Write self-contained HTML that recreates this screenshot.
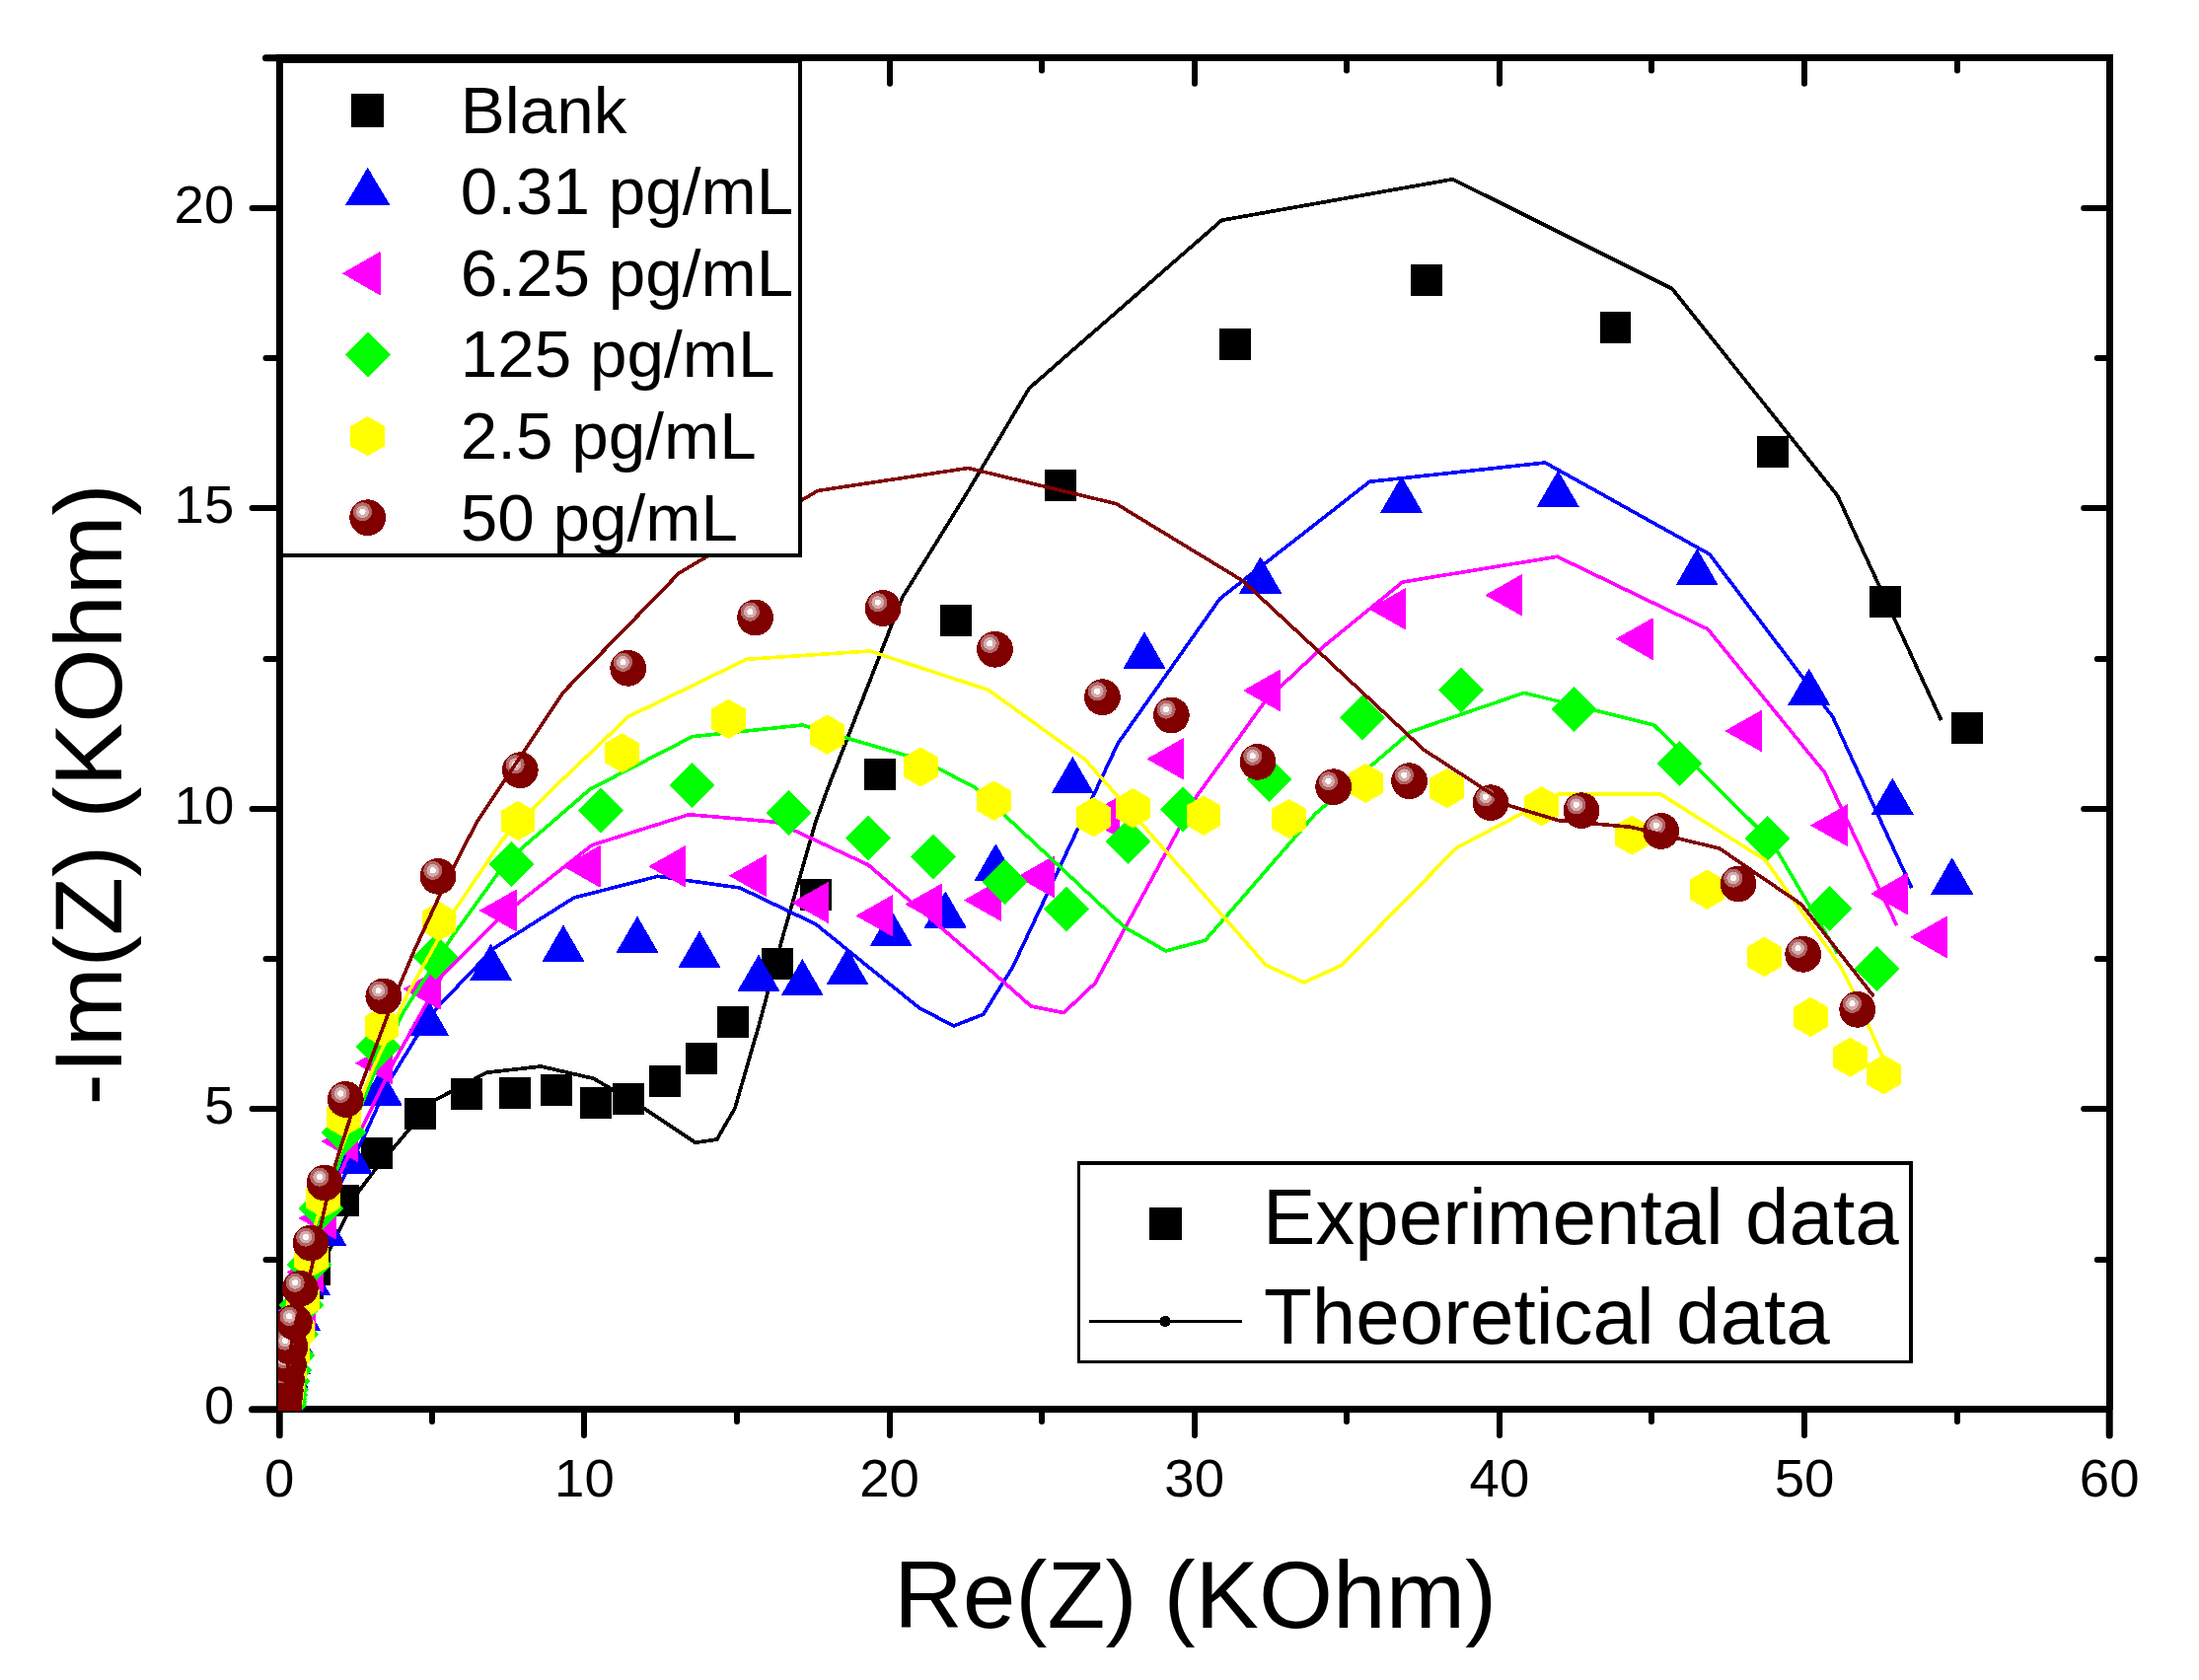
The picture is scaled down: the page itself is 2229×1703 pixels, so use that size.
<!DOCTYPE html>
<html lang="en"><head><meta charset="utf-8"><title>Nyquist plot</title>
<style>html,body{margin:0;padding:0;background:#fff}svg{display:block}text{font-family:"Liberation Sans",Arial,Helvetica,sans-serif;fill:#000}</style></head><body>
<svg width="2229" height="1703" viewBox="0 0 2229 1703" shape-rendering="crispEdges">
<rect width="2229" height="1703" fill="#fff"/>
<defs>
<clipPath id="pc"><rect x="282" y="58.8" width="1856.2" height="1371.2"/></clipPath>
<g id="sq"><rect x="-15.9" y="-16" width="31.8" height="32" fill="#000"/></g>
<g id="tu"><path d="M0,-24.1 L20.8,11.9 L-20.8,11.9 Z" fill="#00f" stroke="#00f" stroke-width="1" stroke-linejoin="round"/></g>
<g id="tl"><path d="M-24.4,0 L12.1,-20.7 L12.1,20.7 Z" fill="#f0f" stroke="#f0f" stroke-width="1" stroke-linejoin="round"/></g>
<g id="di"><path d="M0,-23 L23,0 L0,23 L-23,0 Z" fill="#0f0"/></g>
<g id="hx"><path d="M0,-20.1 L17.4,-10.1 L17.4,10 L0,20.1 L-17.4,10.1 L-17.4,-10.1 Z" fill="#ff0"/></g>
<g id="ba"><circle r="18.4" fill="#800000"/><circle cx="-5.2" cy="-5.9" r="9.6" fill="#b06666"/><circle cx="-5.2" cy="-5.9" r="6.4" fill="#d6abab"/><circle cx="-5.2" cy="-5.9" r="3.1" fill="#fcf9f9"/></g>
</defs>
<g stroke="#000" stroke-width="7.0" fill="none" stroke-linecap="butt">
<path d="M2138.2,55.3 V1428.8 M283.2,58.8 H2138.2 M283.2,1428.8 H2138.2"/>
<path d="M283.5,55.3 V1428.8" stroke-width="6.4"/>
</g>
<g stroke="#000" stroke-width="6" fill="none" stroke-linecap="round" shape-rendering="geometricPrecision">
<path d="M283,1428.8 V1455.1 M438,1428.8 V1441 M438,58.8 V71.5 M592,1428.8 V1455.1 M592,58.8 V84.8 M747,1428.8 V1441 M747,58.8 V71.5 M902,1428.8 V1455.1 M902,58.8 V84.8 M1056,1428.8 V1441 M1056,58.8 V71.5 M1211,1428.8 V1455.1 M1211,58.8 V84.8 M1365,1428.8 V1441 M1365,58.8 V71.5 M1520,1428.8 V1455.1 M1520,58.8 V84.8 M1674,1428.8 V1441 M1674,58.8 V71.5 M1829,1428.8 V1455.1 M1829,58.8 V84.8 M1984,1428.8 V1441 M1984,58.8 V71.5 M2138,1428.8 V1455.1 M283.2,1429 H255.6 M283.2,1277 H269.5 M2138.2,1277 H2125.8 M283.2,1124 H255.6 M2138.2,1124 H2112.2 M283.2,972 H269.5 M2138.2,972 H2125.8 M283.2,820 H255.6 M2138.2,820 H2112.2 M283.2,668 H269.5 M2138.2,668 H2125.8 M283.2,515 H255.6 M2138.2,515 H2112.2 M283.2,363 H269.5 M2138.2,363 H2125.8 M283.2,211 H255.6 M2138.2,211 H2112.2 M283.2,59 H269.5"/>
<path d="M2138.2,1428.8 V1455.1 M283.2,1428.8 H255.6 M283.2,58.8 H269.5" stroke-width="7.0"/>
<path d="M283.5,1428.8 V1455.1" stroke-width="6.4"/>
</g>
<g clip-path="url(#pc)">
<g>
<use href="#sq" x="287.7" y="1425.4"/><use href="#sq" x="287.8" y="1424.1"/><use href="#sq" x="288.1" y="1422.2"/><use href="#sq" x="288.5" y="1419.7"/><use href="#sq" x="289.1" y="1416.1"/><use href="#sq" x="289.9" y="1411.2"/><use href="#sq" x="291" y="1404.3"/><use href="#sq" x="292.7" y="1394.8"/><use href="#sq" x="295" y="1381.6"/><use href="#sq" x="298.4" y="1363.3"/><use href="#sq" x="303.2" y="1337.8"/><use href="#sq" x="311.9" y="1300.7"/><use href="#sq" x="318.7" y="1287"/><use href="#sq" x="347.9" y="1217"/><use href="#sq" x="381.7" y="1168.8"/><use href="#sq" x="425.7" y="1129"/><use href="#sq" x="473.3" y="1109"/><use href="#sq" x="522.3" y="1107.7"/><use href="#sq" x="564.3" y="1105"/><use href="#sq" x="604" y="1117.7"/><use href="#sq" x="636.7" y="1114"/><use href="#sq" x="674.3" y="1095.7"/><use href="#sq" x="711" y="1072.7"/><use href="#sq" x="743.3" y="1035.7"/><use href="#sq" x="787.7" y="977"/><use href="#sq" x="826.7" y="906.7"/><use href="#sq" x="891.8" y="785"/><use href="#sq" x="969" y="629"/><use href="#sq" x="1075" y="491.7"/><use href="#sq" x="1252.3" y="349"/><use href="#sq" x="1445.7" y="284"/><use href="#sq" x="1637.5" y="331.7"/><use href="#sq" x="1797" y="457.7"/><use href="#sq" x="1911" y="610"/><use href="#sq" x="1993.7" y="737.7"/>
<polyline fill="none" stroke="#000" stroke-width="3.7" stroke-linejoin="round" stroke-linecap="butt" points="287,1428.6 291,1410 300,1375 318,1310 333.9,1267.4 364.1,1207 380.5,1185.4 413.3,1146.7 440,1115.7 493.3,1087.3 548.3,1081 601.7,1093.3 650,1121.7 705,1158.3 726.7,1155 745,1123.3 770,1036.7 793.3,950 800,926.7 826.7,833.3 838.8,800 892.5,662.5 915,605 980,500 1043.3,393.5 1238.3,223.3 1472.7,181.7 1695,292.7 1862.7,502.7 1967.7,730"/>
</g>
<g>
<use href="#tu" x="287.3" y="1425.3"/><use href="#tu" x="287.4" y="1424"/><use href="#tu" x="287.6" y="1422.1"/><use href="#tu" x="287.8" y="1419.6"/><use href="#tu" x="288.1" y="1416"/><use href="#tu" x="288.7" y="1411"/><use href="#tu" x="289.6" y="1404"/><use href="#tu" x="291.1" y="1394.4"/><use href="#tu" x="293.5" y="1381"/><use href="#tu" x="297.4" y="1362.4"/><use href="#tu" x="303.7" y="1336.6"/><use href="#tu" x="313.7" y="1300.8"/><use href="#tu" x="330" y="1251"/><use href="#tu" x="355.8" y="1177.3"/><use href="#tu" x="386.3" y="1108.3"/><use href="#tu" x="433.5" y="1037.3"/><use href="#tu" x="497.5" y="981.8"/><use href="#tu" x="571" y="962.6"/><use href="#tu" x="646" y="953.6"/><use href="#tu" x="709" y="968.6"/><use href="#tu" x="769" y="992.6"/><use href="#tu" x="813.3" y="997"/><use href="#tu" x="859" y="986"/><use href="#tu" x="903.3" y="947"/><use href="#tu" x="958.3" y="928.3"/><use href="#tu" x="1009.3" y="880.3"/><use href="#tu" x="1087.3" y="792"/><use href="#tu" x="1160" y="665.5"/><use href="#tu" x="1277.7" y="589.3"/><use href="#tu" x="1420.7" y="507.6"/><use href="#tu" x="1579.3" y="501.8"/><use href="#tu" x="1720.2" y="581"/><use href="#tu" x="1833.7" y="702.6"/><use href="#tu" x="1918.3" y="813.6"/><use href="#tu" x="1978.7" y="894.3"/>
<polyline fill="none" stroke="#00f" stroke-width="3.6" stroke-linejoin="round" stroke-linecap="butt" points="287,1428.6 290,1405 296,1370 306,1320 320,1265 340.4,1209.5 368.6,1153 394,1097 435,1030 500,961.7 581.7,910 666.7,888.3 750,900 826.7,936.7 931.7,1021.7 966.7,1040 996.7,1028.3 1026.7,980 1133.3,753.3 1236.7,606.7 1388.3,488.3 1566.3,469 1732.7,561.7 1857.7,726.7 1937.7,900"/>
</g>
<g>
<use href="#tl" x="287.8" y="1425"/><use href="#tl" x="288" y="1423.6"/><use href="#tl" x="288.4" y="1421.5"/><use href="#tl" x="288.8" y="1418.7"/><use href="#tl" x="289.6" y="1414.8"/><use href="#tl" x="290.6" y="1409.4"/><use href="#tl" x="292" y="1401.8"/><use href="#tl" x="294.1" y="1391.3"/><use href="#tl" x="297" y="1376.7"/><use href="#tl" x="301.2" y="1356.5"/><use href="#tl" x="307.2" y="1328.3"/><use href="#tl" x="315.8" y="1289.3"/><use href="#tl" x="328" y="1235"/><use href="#tl" x="350.6" y="1157"/><use href="#tl" x="385.2" y="1077.7"/><use href="#tl" x="434" y="1002.5"/><use href="#tl" x="511" y="923"/><use href="#tl" x="596" y="878.3"/><use href="#tl" x="682.7" y="878.3"/><use href="#tl" x="764.3" y="887.7"/><use href="#tl" x="827.7" y="915"/><use href="#tl" x="892.7" y="928.3"/><use href="#tl" x="942.7" y="916.7"/><use href="#tl" x="1002.2" y="912.5"/><use href="#tl" x="1056.2" y="888.8"/><use href="#tl" x="1122.7" y="828.3"/><use href="#tl" x="1187.7" y="769.3"/><use href="#tl" x="1285.3" y="700"/><use href="#tl" x="1412.7" y="617.3"/><use href="#tl" x="1530.7" y="603.3"/><use href="#tl" x="1663" y="647.7"/><use href="#tl" x="1773.7" y="741"/><use href="#tl" x="1860.3" y="836.7"/><use href="#tl" x="1921.3" y="906"/><use href="#tl" x="1961.3" y="950"/>
<polyline fill="none" stroke="#f0f" stroke-width="3.6" stroke-linejoin="round" stroke-linecap="butt" points="287,1428.6 290,1403 296,1365 306,1312 320,1255 342,1195 368.6,1140 399.3,1076.4 447.9,989.4 506.7,930 600,856.7 698.3,825.7 786.7,833.3 880,876.7 1000,980 1045,1020 1078.3,1026.7 1110,996.7 1212.5,808 1283,710 1340,656.7 1421.7,590 1578.5,564.3 1731,637.7 1849.3,782.7 1922.7,938.3"/>
</g>
<g>
<use href="#di" x="287.7" y="1424.8"/><use href="#di" x="287.9" y="1423.3"/><use href="#di" x="288.3" y="1421.2"/><use href="#di" x="288.7" y="1418.2"/><use href="#di" x="289.4" y="1414.1"/><use href="#di" x="290.3" y="1408.4"/><use href="#di" x="291.6" y="1400.4"/><use href="#di" x="293.6" y="1389.4"/><use href="#di" x="296.3" y="1374"/><use href="#di" x="300.2" y="1352.7"/><use href="#di" x="305.7" y="1323.2"/><use href="#di" x="313.7" y="1282.1"/><use href="#di" x="325" y="1225"/><use href="#di" x="348" y="1148"/><use href="#di" x="383.9" y="1061"/><use href="#di" x="441.6" y="970"/><use href="#di" x="518.3" y="876"/><use href="#di" x="609.3" y="821.7"/><use href="#di" x="701" y="796"/><use href="#di" x="799" y="824"/><use href="#di" x="880" y="849.3"/><use href="#di" x="946" y="868.3"/><use href="#di" x="1018.3" y="894"/><use href="#di" x="1080.7" y="921.7"/><use href="#di" x="1143.3" y="853.3"/><use href="#di" x="1199.3" y="820.7"/><use href="#di" x="1286.7" y="790"/><use href="#di" x="1380.7" y="727.7"/><use href="#di" x="1481" y="699.3"/><use href="#di" x="1595" y="719"/><use href="#di" x="1702.7" y="774"/><use href="#di" x="1791.7" y="850"/><use href="#di" x="1854.3" y="921"/><use href="#di" x="1902.7" y="982.3"/>
<polyline fill="none" stroke="#0f0" stroke-width="3.6" stroke-linejoin="round" stroke-linecap="butt" points="287,1428.6 290,1402 296,1362 306,1308 320,1250 338,1195 358.3,1140.4 378.8,1089 409.5,1025 455.6,953.6 513.3,873.3 598.3,800 701.7,746.7 813.3,735 933.3,770 988,798 1140,940 1181.7,964 1221.7,953.3 1333.3,825 1430,741.7 1545,702.3 1676.5,735 1796,853.3 1862.7,966.7"/>
</g>
<g>
<use href="#hx" x="287.8" y="1424.6"/><use href="#hx" x="288" y="1423"/><use href="#hx" x="288.3" y="1420.8"/><use href="#hx" x="288.8" y="1417.7"/><use href="#hx" x="289.5" y="1413.3"/><use href="#hx" x="290.5" y="1407.3"/><use href="#hx" x="292" y="1399"/><use href="#hx" x="294" y="1387.4"/><use href="#hx" x="296.9" y="1371.2"/><use href="#hx" x="301.1" y="1348.9"/><use href="#hx" x="307" y="1317.8"/><use href="#hx" x="315.5" y="1274.6"/><use href="#hx" x="327.6" y="1214.6"/><use href="#hx" x="348.1" y="1132.7"/><use href="#hx" x="387" y="1040.3"/><use href="#hx" x="445" y="934"/><use href="#hx" x="525" y="832"/><use href="#hx" x="630.7" y="763.3"/><use href="#hx" x="738.5" y="728.8"/><use href="#hx" x="838.5" y="744.7"/><use href="#hx" x="933.3" y="777.5"/><use href="#hx" x="1007.5" y="811.7"/><use href="#hx" x="1108.3" y="828.3"/><use href="#hx" x="1148.3" y="819.3"/><use href="#hx" x="1220" y="826.7"/><use href="#hx" x="1306.7" y="830"/><use href="#hx" x="1384.3" y="794"/><use href="#hx" x="1466.7" y="799"/><use href="#hx" x="1562.7" y="817.3"/><use href="#hx" x="1654.2" y="846.7"/><use href="#hx" x="1730.3" y="901.7"/><use href="#hx" x="1788.3" y="970"/><use href="#hx" x="1835.3" y="1031"/><use href="#hx" x="1875.3" y="1071.7"/><use href="#hx" x="1909.3" y="1089.3"/>
<polyline fill="none" stroke="#ff0" stroke-width="3.6" stroke-linejoin="round" stroke-linecap="butt" points="287,1428.6 290,1400 296,1358 306,1300 320,1240 338,1185 358.3,1132.7 378.8,1081.6 414.6,1004.8 460.7,922.9 509.3,851.2 560,800 636.7,726.7 756.7,668.3 881.7,660 1001.7,699.3 1100,770 1283.3,978.3 1321.7,996 1360,978.3 1476.7,859.3 1580,805 1683.3,805 1789.3,871.7 1866,980 1879.3,1006.7 1907.7,1070"/>
</g>
<g>
<use href="#ba" x="287.3" y="1428"/><use href="#ba" x="287.6" y="1423.5"/><use href="#ba" x="288.3" y="1417.5"/><use href="#ba" x="289.3" y="1409.5"/><use href="#ba" x="290.5" y="1398.5"/><use href="#ba" x="292.5" y="1383.5"/><use href="#ba" x="294" y="1365"/><use href="#ba" x="298.3" y="1340.3"/><use href="#ba" x="304.3" y="1306.2"/><use href="#ba" x="315" y="1260"/><use href="#ba" x="329" y="1199"/><use href="#ba" x="350.3" y="1114.4"/><use href="#ba" x="388.8" y="1010"/><use href="#ba" x="444" y="888.3"/><use href="#ba" x="527.3" y="780.7"/><use href="#ba" x="636.7" y="677.3"/><use href="#ba" x="765.6" y="626"/><use href="#ba" x="895" y="616.5"/><use href="#ba" x="1008.5" y="658.3"/><use href="#ba" x="1117.4" y="706.7"/><use href="#ba" x="1187.3" y="725"/><use href="#ba" x="1275" y="772.3"/><use href="#ba" x="1351.7" y="797.7"/><use href="#ba" x="1428.6" y="791.7"/><use href="#ba" x="1511" y="813.7"/><use href="#ba" x="1603" y="821.7"/><use href="#ba" x="1683.8" y="842.5"/><use href="#ba" x="1762" y="896"/><use href="#ba" x="1827.7" y="967.3"/><use href="#ba" x="1882.7" y="1023.3"/>
<polyline fill="none" stroke="#800000" stroke-width="3.6" stroke-linejoin="round" stroke-linecap="butt" points="287,1428.6 289,1405 293,1375 300,1340 315.2,1288 330.4,1219 340.4,1178.8 363.4,1107 399.3,1012.4 419.8,963.8 450.5,897.3 483.3,833.3 571,701.7 688.3,581 828.8,497.5 981.3,474.5 1131.5,510.7 1260,589 1443.3,760 1530,816.7 1580,831.7 1653,838.3 1742.7,860 1826,916.7 1899.3,1010"/>
</g>
</g>
<g>
<rect x="284" y="62.6" width="527" height="500.4" fill="#fff" stroke="#000" stroke-width="3.5"/>
<path d="M283.5,55.3 V580" stroke="#000" stroke-width="6.4" fill="none"/>
<path d="M283.2,58.8 H830" stroke="#000" stroke-width="7.0" fill="none"/>
<use href="#sq" transform="translate(372.7,112) scale(1.045,1.066)"/>
<text transform="translate(466.8,134.7) scale(1.022,1)" font-size="66">Blank</text>
<use href="#tu" transform="translate(372.7,195.5) scale(1.055,1.025)"/>
<text transform="translate(466.8,217.2) scale(1.022,1)" font-size="66">0.31 pg/mL</text>
<use href="#tl" transform="translate(372.7,277.2) scale(1.02,1.035)"/>
<text transform="translate(466.8,299.8) scale(1.022,1)" font-size="66">6.25 pg/mL</text>
<use href="#di" transform="translate(372.7,359.7) scale(1)"/>
<text transform="translate(466.8,382.3) scale(1.022,1)" font-size="66">125 pg/mL</text>
<use href="#hx" transform="translate(372.7,442.2) scale(1)"/>
<text transform="translate(466.8,464.9) scale(1.022,1)" font-size="66">2.5 pg/mL</text>
<use href="#ba" transform="translate(372.7,524.7) scale(1)"/>
<text transform="translate(466.8,547.5) scale(1.022,1)" font-size="66">50 pg/mL</text>
</g>
<g>
<rect x="1093.5" y="1179" width="843.5" height="201.5" fill="#fff" stroke="#000" stroke-width="3.4"/>
<rect x="1165.3" y="1223.9" width="33" height="33" fill="#000"/>
<text x="1280" y="1261.3" font-size="80">Experimental data</text>
<path d="M1104.2,1339.5 H1259.3" stroke="#000" stroke-width="2.2" fill="none"/>
<circle cx="1181.1" cy="1339.5" r="5.6" fill="#000"/>
<text x="1281" y="1361.6" font-size="80">Theoretical data</text>
</g>
<text transform="translate(283.2,1517.3) scale(1.03,1)" font-size="53" text-anchor="middle">0</text>
<text transform="translate(592.4,1517.3) scale(1.03,1)" font-size="53" text-anchor="middle">10</text>
<text transform="translate(901.5,1517.3) scale(1.03,1)" font-size="53" text-anchor="middle">20</text>
<text transform="translate(1210.7,1517.3) scale(1.03,1)" font-size="53" text-anchor="middle">30</text>
<text transform="translate(1519.9,1517.3) scale(1.03,1)" font-size="53" text-anchor="middle">40</text>
<text transform="translate(1829.1,1517.3) scale(1.03,1)" font-size="53" text-anchor="middle">50</text>
<text transform="translate(2138.2,1517.3) scale(1.03,1)" font-size="53" text-anchor="middle">60</text>
<text transform="translate(237.3,1443.4) scale(1.03,1)" font-size="53" text-anchor="end">0</text>
<text transform="translate(237.3,1138.9) scale(1.03,1)" font-size="53" text-anchor="end">5</text>
<text transform="translate(237.3,834.5) scale(1.03,1)" font-size="53" text-anchor="end">10</text>
<text transform="translate(237.3,530) scale(1.03,1)" font-size="53" text-anchor="end">15</text>
<text transform="translate(237.3,225.6) scale(1.03,1)" font-size="53" text-anchor="end">20</text>
<text x="1211.6" y="1650.3" font-size="96.5" text-anchor="middle">Re(Z) (KOhm)</text>
<text transform="translate(122.6,805.4) rotate(-90)" font-size="97" text-anchor="middle">-Im(Z) (KOhm)</text>
</svg></body></html>
